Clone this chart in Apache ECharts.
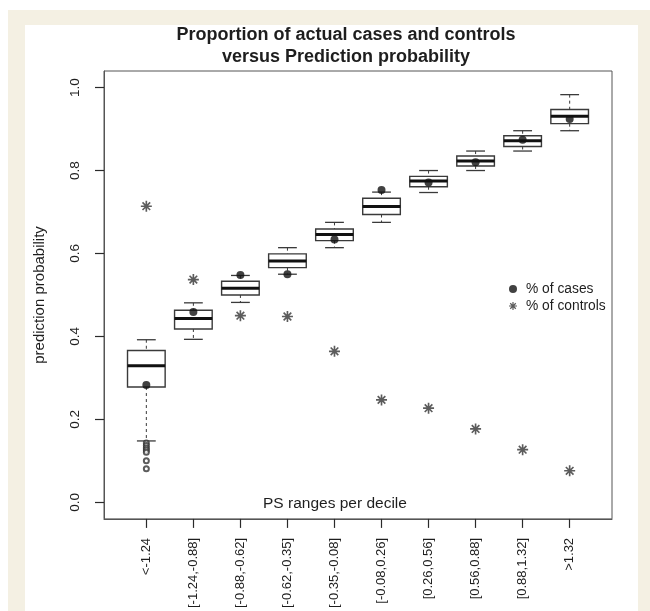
<!DOCTYPE html>
<html>
<head>
<meta charset="utf-8">
<script src="https://cdn.jsdelivr.net/npm/echarts@6/dist/echarts.min.js"></script>
<style>
  html, body { margin: 0; padding: 0; background: #ffffff; }
  #wrap { position: relative; width: 650px; height: 611px; overflow: hidden; }
  #beige { position: absolute; left: 8px; top: 10px; width: 642px; height: 601px; background: #f4f0e3; }
  #panel { position: absolute; left: 25px; top: 25px; width: 613px; height: 586px; background: #ffffff; }
  #chart { position: absolute; left: 0; top: 0; width: 650px; height: 611px; }
</style>
</head>
<body>
<div id="wrap">
  <div id="beige"></div>
  <div id="panel"></div>
  <div id="chart"></div>
</div>
<script>
// ---- data ----
const categories = ['<-1.24', '[-1.24,-0.88]', '[-0.88,-0.62]', '[-0.62,-0.35]', '[-0.35,-0.08]',
                    '[-0.08,0.26]', '[0.26,0.56]', '[0.56,0.88]', '[0.88,1.32]', '>1.32'];
const whiskerLow  = [0.148, 0.393, 0.482, 0.550, 0.614, 0.675, 0.747, 0.800, 0.847, 0.896];
const quartile1   = [0.278, 0.418, 0.500, 0.566, 0.631, 0.694, 0.761, 0.811, 0.858, 0.913];
const medians     = [0.329, 0.443, 0.516, 0.582, 0.646, 0.713, 0.775, 0.823, 0.872, 0.931];
const quartile3   = [0.366, 0.463, 0.533, 0.599, 0.659, 0.733, 0.786, 0.835, 0.884, 0.947];
const whiskerHigh = [0.392, 0.481, 0.547, 0.614, 0.675, 0.748, 0.800, 0.847, 0.896, 0.983];
const pctCases    = [0.283, 0.459, 0.548, 0.550, 0.634, 0.753, 0.771, 0.820, 0.874, 0.924];
const pctControls = [0.714, 0.537, 0.450, 0.448, 0.364, 0.247, 0.227, 0.177, 0.127, 0.076];
const outlierGroup  = [1, 1, 1, 1, 1, 1, 1];
const outlierValues = [0.143, 0.137, 0.131, 0.126, 0.121, 0.100, 0.081];
const yTickValues = [0, 0.2, 0.4, 0.6, 0.8, 1.0];

const positions = categories.map((c, i) => i + 1);
const boxData = positions.map((p, i) => [p, whiskerLow[i], quartile1[i], medians[i], quartile3[i], whiskerHigh[i]]);
const casesData = positions.map((p, i) => [p, pctCases[i]]);
const controlsData = positions.map((p, i) => [p, pctControls[i]]);
const outlierData = outlierGroup.map((g, i) => [g, outlierValues[i]]);

const FONT = '"Liberation Sans", Arial, Helvetica, sans-serif';
const INK = '#1e1e1e';
const LINE = '#3a3a3a';
const STAR = 'path://M0 4.25H10V5.75H0Z M4.25 0H5.75V10H4.25Z M1.0 2.06L2.06 1.0L9.0 7.94L7.94 9.0Z M7.94 1.0L9.0 2.06L2.06 9.0L1.0 7.94Z';

function renderBox(params, api) {
  const x = api.value(0);
  const pLo = api.coord([x, api.value(1)]);
  const pQ1 = api.coord([x, api.value(2)]);
  const pMd = api.coord([x, api.value(3)]);
  const pQ3 = api.coord([x, api.value(4)]);
  const pHi = api.coord([x, api.value(5)]);
  const bw = api.size([0.8, 0])[0];
  const cw = api.size([0.4, 0])[0];
  const cx = pMd[0];
  return {
    type: 'group',
    children: [
      { type: 'line', shape: { x1: cx, y1: pHi[1], x2: cx, y2: pQ3[1] }, style: { stroke: LINE, lineWidth: 1, lineDash: [3, 3] } },
      { type: 'line', shape: { x1: cx, y1: pQ1[1], x2: cx, y2: pLo[1] }, style: { stroke: LINE, lineWidth: 1, lineDash: [3, 3] } },
      { type: 'line', shape: { x1: cx - cw / 2, y1: pHi[1], x2: cx + cw / 2, y2: pHi[1] }, style: { stroke: LINE, lineWidth: 1.3 } },
      { type: 'line', shape: { x1: cx - cw / 2, y1: pLo[1], x2: cx + cw / 2, y2: pLo[1] }, style: { stroke: LINE, lineWidth: 1.3 } },
      { type: 'rect', shape: { x: cx - bw / 2, y: pQ3[1], width: bw, height: pQ1[1] - pQ3[1] }, style: { fill: '#ffffff', stroke: LINE, lineWidth: 1.4 } },
      { type: 'line', shape: { x1: cx - bw / 2, y1: pMd[1], x2: cx + bw / 2, y2: pMd[1] }, style: { stroke: '#111', lineWidth: 3 } }
    ]
  };
}

const chart = echarts.init(document.getElementById('chart'), null, { renderer: 'canvas' });
chart.setOption({
  backgroundColor: 'transparent',
  animation: false,
  textStyle: { fontFamily: FONT },
  title: {
    text: 'Proportion of actual cases and controls\nversus Prediction probability',
    left: 341, top: 19, textAlign: 'center',
    textStyle: { fontFamily: FONT, fontSize: 18, fontWeight: 'bold', color: INK, lineHeight: 22 }
  },
  legend: {
    orient: 'vertical', left: 504, top: 277, itemGap: 3, itemWidth: 8, itemHeight: 8,
    textStyle: { fontFamily: FONT, fontSize: 13.8, color: INK, padding: [0, 0, 0, 4] },
    data: [
      { name: '% of cases', icon: 'circle', itemStyle: { color: '#111' } },
      { name: '% of controls', icon: STAR, itemStyle: { color: '#333' } }
    ]
  },
  grid: { left: 104, top: 71, right: 38, bottom: 89, show: true, borderColor: '#555', borderWidth: 1, backgroundColor: 'transparent' },
  xAxis: {
    type: 'value', min: 0.1, max: 10.9,
    axisLine: { show: true, onZero: false, lineStyle: { color: '#555', width: 1 } },
    splitLine: { show: false },
    axisTick: { show: true, inside: false, length: 9, customValues: positions, lineStyle: { color: '#2a2a2a', width: 1.2 } },
    axisLabel: {
      customValues: positions, rotate: 90, margin: 19,
      fontFamily: FONT, fontSize: 13, color: INK,
      formatter: v => categories[Math.round(v) - 1]
    }
  },
  yAxis: {
    type: 'value', min: -0.04, max: 1.04,
    name: 'prediction probability', nameLocation: 'middle', nameRotate: 90, nameGap: 57,
    nameTextStyle: { fontFamily: FONT, fontSize: 15, color: INK },
    axisLine: { show: true, onZero: false, lineStyle: { color: '#555', width: 1 } },
    splitLine: { show: false },
    axisTick: { show: true, inside: false, length: 9, customValues: yTickValues, lineStyle: { color: '#2a2a2a', width: 1.2 } },
    axisLabel: {
      customValues: yTickValues, rotate: 90, margin: 22,
      fontFamily: FONT, fontSize: 13.5, color: INK,
      formatter: v => v.toFixed(1)
    }
  },
  graphic: [
    { type: 'text', left: 263, top: 496, style: { text: 'PS ranges per decile', font: '15.5px ' + FONT, fill: INK } }
  ],
  series: [
    { type: 'custom', name: 'boxes', renderItem: renderBox, data: boxData, encode: { x: 0, y: [1, 2, 3, 4, 5] }, z: 2, silent: true },
    { type: 'scatter', name: 'outliers', data: outlierData, symbol: 'emptyCircle', symbolSize: 5,
      itemStyle: { color: '#333', borderWidth: 1 }, z: 3 },
    { type: 'scatter', name: '% of cases', data: casesData, symbol: 'circle', symbolSize: 8,
      itemStyle: { color: '#111' }, z: 4 },
    { type: 'scatter', name: '% of controls', data: controlsData, symbol: STAR, symbolSize: 11,
      itemStyle: { color: '#333' }, z: 4 }
  ]
});
</script>
</body>
</html>
